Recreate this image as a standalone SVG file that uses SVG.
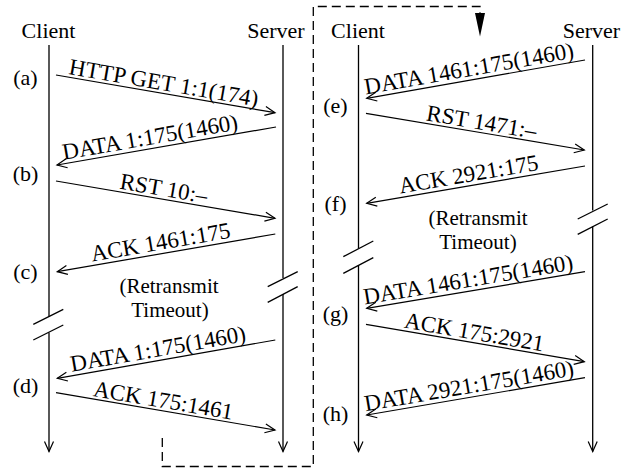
<svg xmlns="http://www.w3.org/2000/svg" width="635" height="470" viewBox="0 0 635 470">
<defs>
<marker id="ah" markerUnits="userSpaceOnUse" markerWidth="14" markerHeight="12" refX="12" refY="6" orient="auto" overflow="visible">
<path d="M2,1.5 L12,6 L2,10.5" fill="none" stroke="#000" stroke-width="1.2"/>
</marker>
<style>
text{font-family:"Liberation Serif","Times New Roman",serif;font-size:22px;fill:#000}
.m{text-anchor:middle}
.lb{font-size:23px}
.to{font-size:21px}
.ln{stroke:#000;stroke-width:1.3;fill:none}
.msg{stroke:#000;stroke-width:1.2;fill:none;marker-end:url(#ah)}
.sl{stroke:#000;stroke-width:1.3}
.dash{stroke:#000;stroke-width:1.3;fill:none;stroke-dasharray:9,5}
</style>
</defs>
<rect width="635" height="470" fill="#fff"/>

<g id="left-client">
<text class="m" x="48.5" y="38">Client</text>
<path class="ln" d="M49,45 V316.5 M49,332.5 V451.5" style="marker-end:url(#ah)"/>
<line class="sl" x1="33.3" y1="324.3" x2="63.3" y2="309.3"/>
<line class="sl" x1="33.3" y1="340" x2="63.3" y2="325"/>
</g>
<g id="left-server">
<text class="m" x="276" y="38">Server</text>
<path class="ln" d="M283,45 V278 M283,294 V451.5" style="marker-end:url(#ah)"/>
<line class="sl" x1="267.7" y1="286.7" x2="297.7" y2="271.7"/>
<line class="sl" x1="267.7" y1="302.3" x2="297.7" y2="286.7"/>
</g>
<g id="right-client">
<text class="m" x="358" y="38">Client</text>
<path class="ln" d="M358.5,45 V248.5 M358.5,265 V451.5" style="marker-end:url(#ah)"/>
<line class="sl" x1="343.3" y1="256.7" x2="373.3" y2="241"/>
<line class="sl" x1="343.3" y1="273.3" x2="373.3" y2="257.7"/>
</g>
<g id="right-server">
<text class="m" x="591.5" y="38">Server</text>
<path class="ln" d="M592.7,45 V210.5 M592.7,226.5 V451.5" style="marker-end:url(#ah)"/>
<line class="sl" x1="577.7" y1="219" x2="607.7" y2="204"/>
<line class="sl" x1="577.7" y1="234.3" x2="607.7" y2="219"/>
</g>

<g id="step-labels">
<text class="m" x="25.5" y="84.5">(a)</text>
<text class="m" x="25.5" y="181">(b)</text>
<text class="m" x="25.5" y="279">(c)</text>
<text class="m" x="25.5" y="393">(d)</text>
<text class="m" x="335.5" y="113">(e)</text>
<text class="m" x="335.5" y="211">(f)</text>
<text class="m" x="335.5" y="321">(g)</text>
<text class="m" x="335.5" y="421">(h)</text>
</g>

<g id="timeouts">
<text class="m to" x="169" y="293">(Retransmit</text>
<text class="m to" x="170" y="317">Timeout)</text>
<text class="m to" x="478" y="225">(Retransmit</text>
<text class="m to" x="478" y="249">Timeout)</text>
</g>

<g id="connectors">
<line class="msg" x1="56" y1="75" x2="275" y2="112.7"/>
<line class="msg" x1="276" y1="127" x2="57" y2="165"/>
<line class="msg" x1="56" y1="181" x2="275" y2="218.3"/>
<line class="msg" x1="275.3" y1="234" x2="57.3" y2="271.7"/>
<line class="msg" x1="275.3" y1="340" x2="57.3" y2="378.3"/>
<line class="msg" x1="56" y1="392.7" x2="275" y2="430"/>

<line class="msg" x1="585" y1="60" x2="366.7" y2="98.3"/>
<line class="msg" x1="366" y1="113.3" x2="584.3" y2="150"/>
<line class="msg" x1="585" y1="166" x2="366.7" y2="203.3"/>
<line class="msg" x1="585" y1="271.7" x2="366.7" y2="308.3"/>
<line class="msg" x1="366" y1="324.3" x2="584.3" y2="361.7"/>
<line class="msg" x1="585" y1="377.7" x2="366.7" y2="415"/>

<path class="dash" d="M162.3,438 V466.5 H313.3 V6.5 H480 V13"/>
<polygon points="475,13 485,13 480,36.5" fill="#000"/>
</g>

<g id="connector-labels">
<text class="m lb" transform="translate(162,93.2) rotate(9.77)" y="-3">HTTP GET 1:1(174)</text>
<text class="m lb" transform="translate(152,148.5) rotate(-9.84)" y="-4">DATA 1:175(1460)</text>
<text class="m lb" transform="translate(162,199) rotate(9.67)" y="-3">RST 10:–</text>
<text class="m lb" transform="translate(162.5,253.5) rotate(-9.81)" y="-4">ACK 1461:175</text>
<text class="m lb" transform="translate(160,360.3) rotate(-9.96)" y="-4">DATA 1:175(1460)</text>
<text class="m lb" transform="translate(161.5,410.7) rotate(9.67)" y="-3">ACK 175:1461</text>

<text class="m lb" transform="translate(471,80) rotate(-9.95)" y="-4">DATA 1461:175(1460)</text>
<text class="m lb" transform="translate(480,132.5) rotate(9.54)" y="-3">RST 1471:–</text>
<text class="m lb" transform="translate(470.5,185.6) rotate(-9.7)" y="-4">ACK 2921:175</text>
<text class="m lb" transform="translate(470,291) rotate(-9.52)" y="-4">DATA 1461:175(1460)</text>
<text class="m lb" transform="translate(472.5,342.5) rotate(9.72)" y="-3">ACK 175:2921</text>
<text class="m lb" transform="translate(471,397.2) rotate(-9.7)" y="-4">DATA 2921:175(1460)</text>
</g>
</svg>
